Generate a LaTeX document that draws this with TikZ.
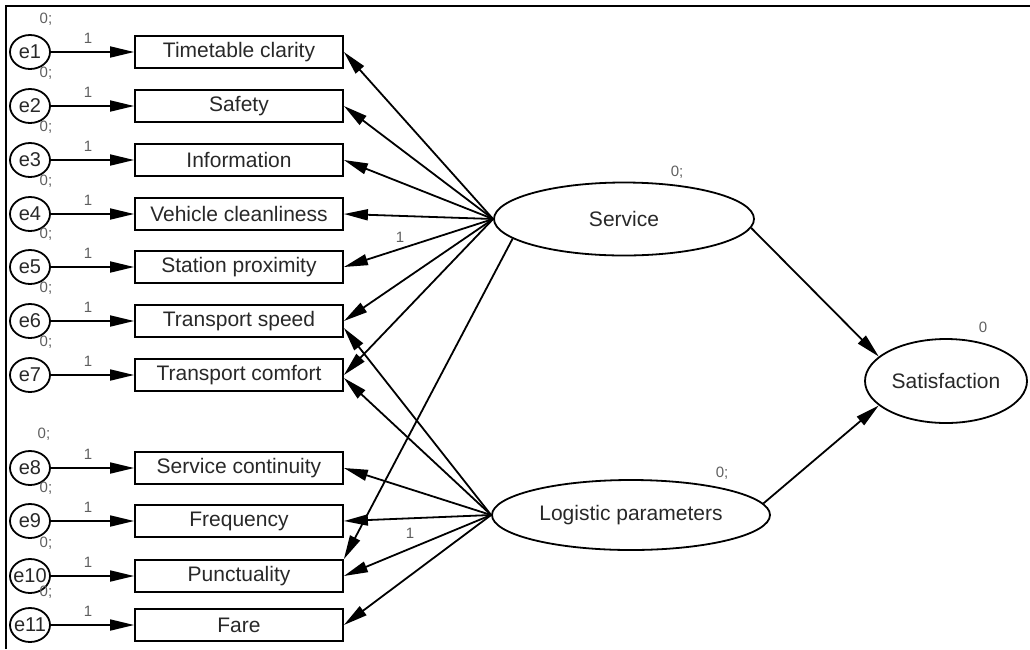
\documentclass[tikz,border=0pt]{standalone}
\usepackage{fontspec}
\setmainfont{Liberation Sans}
\usetikzlibrary{shapes.geometric,arrows.meta}
\definecolor{lab}{RGB}{95,95,95}
\definecolor{txt}{RGB}{40,40,40}
\newcommand{\errname}[1]{\makebox[0pt]{#1}}

\begin{document}
\begin{tikzpicture}[x=1pt,y=-1pt,line width=1.8pt,
        obs/.style={draw,rectangle,minimum width=208pt,minimum height=32pt,inner sep=0pt,text=txt,font=\fontsize{21}{21}\selectfont},
        err/.style={draw,ellipse,minimum width=40pt,minimum height=34pt,inner sep=0pt,text=txt,font=\fontsize{20}{20}\selectfont},
        lat/.style={draw,ellipse,inner sep=0pt,text=txt,font=\fontsize{21}{21}\selectfont},
        arr/.style={-{Triangle[length=24pt,width=11pt]}},
        small/.style={text=lab,inner sep=0pt,font=\fontsize{15}{15}\selectfont}]
                \useasboundingbox (0,0) rectangle (1030,649);
                \draw[line width=2.5pt] (6,649) -- (6,6) -- (1030,6);

                % error terms and indicators
                \node[err] (e1) at (30,52) {\errname{e1}};
                \node[obs] (tc) at (239,52) {Timetable clarity};
                \node[err] (e2) at (30,106) {\errname{e2}};
                \node[obs] (sf) at (239,106) {Safety};
                \node[err] (e3) at (30,160) {\errname{e3}};
                \node[obs] (inf) at (239,160) {Information};
                \node[err] (e4) at (30,214) {\errname{e4}};
                \node[obs] (vc) at (239,214) {Vehicle cleanliness};
                \node[err] (e5) at (30,267) {\errname{e5}};
                \node[obs] (sp) at (239,267) {Station proximity};
                \node[err] (e6) at (30,321) {\errname{e6}};
                \node[obs] (ts) at (239,321) {Transport speed};
                \node[err] (e7) at (30,375) {\errname{e7}};
                \node[obs] (tcm) at (239,375) {Transport comfort};
                \node[err] (e8) at (30,468) {\errname{e8}};
                \node[obs] (scn) at (239,468) {Service continuity};
                \node[err] (e9) at (30,521) {\errname{e9}};
                \node[obs] (fq) at (239,521) {Frequency};
                \node[err] (e10) at (30,576) {\errname{e10}};
                \node[obs] (pu) at (239,576) {Punctuality};
                \node[err] (e11) at (30,625) {\errname{e11}};
                \node[obs] (fa) at (239,625) {Fare};

                \draw[arr] (e1) -- (tc);
                \draw[arr] (e2) -- (sf);
                \draw[arr] (e3) -- (inf);
                \draw[arr] (e4) -- (vc);
                \draw[arr] (e5) -- (sp);
                \draw[arr] (e6) -- (ts);
                \draw[arr] (e7) -- (tcm);
                \draw[arr] (e8) -- (scn);
                \draw[arr] (e9) -- (fq);
                \draw[arr] (e10) -- (pu);
                \draw[arr] (e11) -- (fa);

                \node[small] (w1) at (88,38) {1};
                \node[small] (w2) at (88,92) {1};
                \node[small] (w3) at (88,146) {1};
                \node[small] (w4) at (88,200) {1};
                \node[small] (w5) at (88,253) {1};
                \node[small] (w6) at (88,307) {1};
                \node[small] (w7) at (88,361) {1};
                \node[small] (w8) at (88,454) {1};
                \node[small] (w9) at (88,507) {1};
                \node[small] (w10) at (88,562) {1};
                \node[small] (w11) at (88,611) {1};

                \node[small] (v1) at (46,19) {0;};
                \node[small] (v2) at (46,73) {0;};
                \node[small] (v3) at (46,127) {0;};
                \node[small] (v4) at (46,181) {0;};
                \node[small] (v5) at (46,234) {0;};
                \node[small] (v6) at (46,288) {0;};
                \node[small] (v7) at (46,342) {0;};
                \node[small] (v8) at (44,434) {0;};
                \node[small] (v9) at (46,488) {0;};
                \node[small] (v10) at (46,543) {0;};
                \node[small] (v11) at (46,592) {0;};

                % latent variables
                \node[lat,minimum width=260pt,minimum height=73pt] (serv) at (624,219) {Service};
                \node[lat,minimum width=278pt,minimum height=70pt] (logi) at (631,515) {Logistic parameters};
                \node[lat,minimum width=162pt,minimum height=84pt] (satis) at (946,381) {Satisfaction};
                \node[small] (vs) at (677,172) {0;};
                \node[small] (vl) at (722,473) {0;};
                \node[small] (vsat) at (983,327) {0};

                \draw[arr] (serv.west) -- (tc.east);
                \draw[arr] (serv.west) -- (sf.east);
                \draw[arr] (serv.west) -- (inf.east);
                \draw[arr] (serv.west) -- (vc.east);
                \draw[arr] (serv.west) -- (sp.east);
                \draw[arr] (serv.west) -- (ts.east);
                \draw[arr] (serv.west) -- (tcm.east);
                \draw[arr] (serv.190) -- (pu.north east);
                \node[small] (ws) at (400,237) {1};

                \draw[arr] (logi.west) -- ([yshift=-7pt]ts.east);
                \draw[arr] (logi.west) -- ([yshift=-3pt]tcm.east);
                \draw[arr] (logi.west) -- (scn.east);
                \draw[arr] (logi.west) -- (fq.east);
                \draw[arr] (logi.west) -- (pu.east);
                \draw[arr] (logi.west) -- (fa.east);
                \node[small] (wl) at (410,533) {1};

                \draw[arr] (serv.-4) -- (satis.160);
                \draw[arr] (logi.5) -- (satis.200);
            \end{tikzpicture}
\end{document}
